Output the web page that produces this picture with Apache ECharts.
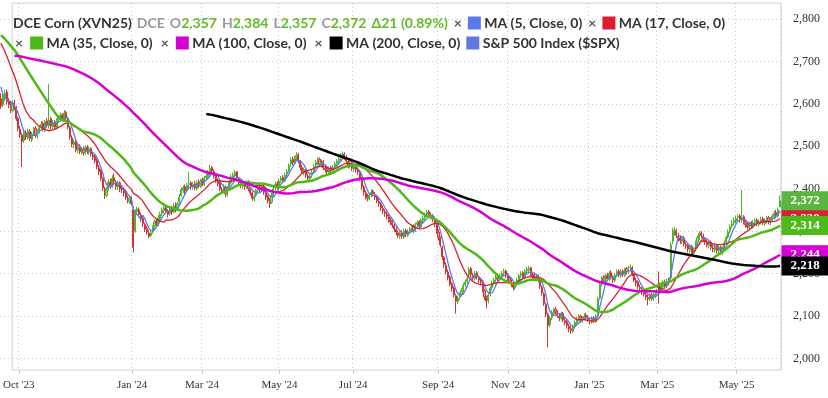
<!DOCTYPE html>
<html>
<head>
<meta charset="utf-8">
<script src="https://cdn.jsdelivr.net/npm/echarts@6/dist/echarts.min.js"></script>
<style>
html, body { margin: 0; padding: 0; background: #fff; }
#main { width: 828px; height: 398px; }
</style>
</head>
<body>
<div id="main"></div>
<script>
// closes before the first bar on screen (mid May - Sep 25 2023), only feed the moving averages
const histClose = [
  2598, 2605, 2612, 2608, 2620, 2615, 2628, 2622, 2630, 2625, 2618, 2632, 2640, 2635, 2645, 2650, 2642, 2655, 2660, 2652,
  2665, 2670, 2662, 2675, 2680, 2672, 2685, 2690, 2682, 2695, 2700, 2692, 2705, 2710, 2702, 2715, 2722, 2728,
  2735, 2748, 2755, 2762, 2758, 2770, 2765, 2778, 2772, 2768, 2780, 2775, 2785, 2778, 2772, 2782, 2790, 2785, 2778, 2786,
  2780, 2772, 2785, 2778, 2790, 2782, 2775, 2788, 2780, 2770, 2784, 2778, 2790, 2776, 2782, 2772, 2785, 2776,
  2780, 2790, 2795, 2788, 2800, 2792, 2785, 2796, 2790, 2782, 2775, 2760,
  2702, 2662, 2636, 2605
];

// daily bars [open, close, low, high]
const sep23 = [[2612,2595,2588,2625],[2598,2618,2592,2626],[2615,2625,2606,2632]];
const oct23 = [[2628,2605,2598,2634],[2606,2598,2590,2614],[2600,2585,2578,2606],[2584,2600,2580,2608],[2602,2592,2585,2610],
  [2590,2565,2560,2595],[2566,2542,2536,2570],[2540,2528,2520,2548],[2526,2512,2451,2532],[2514,2530,2508,2536],
  [2532,2522,2515,2538],[2520,2536,2516,2542],[2535,2518,2512,2540],[2516,2528,2510,2534],[2530,2540,2524,2546],
  [2542,2525,2520,2548],[2524,2535,2518,2540]];
const nov23 = [[2536,2545,2530,2550],[2546,2552,2540,2560],[2554,2540,2535,2558],[2538,2558,2534,2562],[2560,2550,2544,2566],
  [2548,2562,2542,2647],[2565,2548,2540,2570],[2546,2556,2540,2562],[2558,2545,2538,2562],[2544,2560,2540,2566],
  [2562,2566,2555,2574],[2565,2572,2560,2580],[2574,2565,2558,2578],[2562,2578,2558,2585],[2580,2568,2560,2584],
  [2566,2545,2540,2570],[2544,2522,2516,2548],[2520,2505,2498,2526],[2504,2510,2496,2516],[2512,2492,2486,2516],
  [2490,2498,2484,2504],[2500,2488,2482,2505]];
const dec23 = [[2486,2492,2480,2498],[2494,2485,2478,2500],[2484,2496,2480,2502],[2498,2488,2482,2503],[2486,2494,2480,2500],
  [2495,2482,2476,2498],[2480,2475,2468,2486],[2476,2466,2460,2480],[2468,2452,2446,2472],[2450,2440,2432,2456],
  [2442,2425,2418,2446],[2424,2402,2395,2428],[2400,2385,2376,2405],[2384,2398,2380,2404],[2400,2415,2395,2422],
  [2416,2408,2400,2424],[2406,2425,2402,2432],[2426,2418,2410,2436],[2416,2405,2398,2420],[2404,2412,2398,2418],
  [2414,2400,2392,2418]];
const jan24 = [[2402,2398,2390,2408],[2396,2390,2382,2402],[2392,2380,2374,2396],[2378,2372,2366,2384],[2370,2378,2364,2384],
  [2376,2365,2360,2382],[2352,2262,2250,2358],[2300,2348,2296,2352],[2346,2352,2338,2358],[2350,2340,2334,2356],
  [2338,2330,2322,2344],[2330,2318,2310,2334],[2316,2305,2298,2320],[2306,2298,2292,2312],[2296,2288,2284,2302],
  [2290,2296,2286,2304],[2298,2310,2294,2314],[2312,2322,2306,2328],[2324,2318,2312,2330],[2316,2332,2312,2338],
  [2330,2340,2326,2346],[2342,2350,2336,2356]];
const feb24 = [[2348,2355,2342,2362],[2356,2348,2340,2362],[2346,2340,2332,2352],[2342,2352,2336,2358],[2354,2345,2338,2360],
  [2346,2360,2342,2366],[2362,2350,2344,2368],[2352,2365,2348,2370],[2370,2380,2364,2388],[2384,2398,2380,2404],
  [2396,2402,2390,2408],[2404,2395,2388,2410],[2396,2408,2392,2414],[2410,2412,2400,2439],[2414,2405,2398,2418]];
const mar24 = [[2404,2410,2398,2416],[2412,2402,2396,2418],[2400,2415,2396,2420],[2416,2408,2402,2422],[2406,2418,2402,2424],
  [2420,2412,2406,2426],[2410,2425,2406,2430],[2426,2430,2418,2436],[2428,2438,2424,2444],[2436,2448,2432,2456],
  [2450,2442,2436,2454],[2440,2430,2424,2446],[2432,2420,2414,2436],[2418,2412,2406,2424],[2414,2400,2394,2418],
  [2398,2395,2388,2404],[2394,2405,2390,2410],[2404,2388,2380,2408],[2386,2400,2382,2406],[2402,2415,2398,2420],
  [2414,2428,2410,2434]];
const apr24 = [[2426,2432,2420,2438],[2430,2438,2426,2444],[2440,2425,2420,2442],[2424,2415,2408,2428],[2416,2408,2402,2420],
  [2406,2412,2400,2418],[2414,2405,2398,2418],[2404,2415,2400,2420],[2416,2400,2394,2420],[2398,2390,2384,2404],
  [2390,2378,2372,2394],[2376,2382,2370,2388],[2384,2395,2380,2400],[2396,2402,2390,2408],[2404,2398,2392,2410],
  [2396,2405,2392,2410],[2406,2392,2386,2410],[2390,2380,2374,2396],[2382,2372,2366,2386],[2370,2365,2355,2378]];
const may24 = [[2368,2385,2364,2390],[2386,2400,2382,2406],[2402,2410,2396,2416],[2412,2405,2398,2418],[2404,2418,2400,2424],
  [2420,2425,2414,2430],[2426,2420,2414,2432],[2418,2432,2416,2438],[2434,2440,2428,2446],[2442,2455,2438,2460],
  [2458,2468,2452,2474],[2470,2462,2456,2476],[2460,2472,2456,2478],[2474,2478,2466,2486],[2480,2465,2460,2484],
  [2464,2450,2444,2468],[2450,2440,2434,2456],[2438,2445,2432,2450],[2446,2432,2426,2450],[2430,2425,2418,2436]];
const jun24 = [[2424,2430,2418,2436],[2432,2438,2426,2444],[2440,2452,2436,2458],[2454,2462,2448,2468],[2464,2468,2456,2474],
  [2470,2458,2452,2474],[2456,2462,2450,2468],[2464,2450,2444,2468],[2448,2445,2438,2456],[2446,2440,2432,2450],
  [2438,2448,2434,2452],[2450,2442,2436,2454],[2440,2450,2436,2456],[2452,2458,2446,2464],[2460,2465,2454,2470],
  [2466,2470,2460,2476],[2472,2478,2466,2484],[2476,2480,2470,2488],[2482,2475,2468,2486]];
const jul24 = [[2474,2465,2458,2480],[2464,2455,2448,2470],[2454,2460,2448,2466],[2462,2448,2442,2466],[2446,2452,2440,2458],
  [2454,2445,2438,2458],[2444,2440,2432,2450],[2438,2425,2418,2442],[2424,2405,2398,2428],[2404,2392,2384,2408],
  [2390,2380,2374,2396],[2382,2378,2370,2388],[2376,2385,2372,2390],[2386,2392,2380,2398],[2394,2388,2382,2398],
  [2386,2380,2374,2392],[2382,2372,2366,2386],[2370,2365,2358,2376],[2364,2355,2348,2368],[2354,2348,2340,2360],
  [2346,2342,2334,2352],[2340,2335,2328,2346],[2334,2328,2320,2340]];
const aug24 = [[2326,2322,2314,2332],[2320,2315,2308,2326],[2314,2305,2298,2318],[2304,2298,2290,2310],[2296,2290,2284,2302],
  [2288,2295,2282,2300],[2296,2288,2282,2302],[2286,2300,2282,2306],[2302,2292,2286,2306],[2290,2298,2286,2304],
  [2300,2305,2294,2310],[2306,2310,2300,2316],[2312,2302,2296,2316],[2300,2315,2298,2320],[2316,2320,2310,2326],
  [2322,2312,2306,2326],[2310,2325,2306,2330],[2326,2330,2320,2336],[2332,2338,2326,2344],[2340,2345,2334,2350],
  [2346,2340,2334,2350],[2338,2335,2328,2344]];
const sep24 = [[2334,2330,2322,2340],[2328,2318,2310,2334],[2316,2300,2294,2320],[2298,2285,2278,2304],[2284,2268,2262,2288],
  [2262,2240,2232,2266],[2238,2222,2214,2242],[2220,2205,2198,2226],[2204,2190,2184,2210],[2192,2175,2170,2196],
  [2176,2165,2158,2180],[2166,2150,2144,2170],[2148,2135,2106,2152],[2134,2142,2128,2148],[2144,2150,2138,2156],
  [2152,2160,2146,2166],[2162,2172,2156,2178],[2174,2180,2168,2186],[2182,2188,2176,2194]];
const oct24 = [[2196,2210,2190,2216],[2212,2198,2192,2216],[2196,2190,2184,2202],[2188,2200,2184,2206],[2202,2192,2186,2206],
  [2190,2185,2178,2196],[2186,2180,2172,2190],[2178,2162,2156,2182],[2160,2145,2138,2164],[2144,2135,2118,2148],
  [2136,2150,2130,2156],[2152,2165,2146,2170],[2166,2178,2160,2184],[2180,2185,2172,2190],[2186,2192,2180,2198],
  [2194,2188,2182,2200],[2186,2195,2182,2200],[2196,2200,2190,2206]];
const nov24 = [[2202,2205,2194,2212],[2206,2198,2190,2210],[2196,2188,2182,2202],[2190,2182,2176,2194],[2180,2175,2168,2186],
  [2176,2168,2160,2180],[2166,2172,2162,2178],[2174,2185,2170,2190],[2186,2195,2180,2200],[2196,2200,2190,2206],
  [2202,2192,2186,2206],[2190,2205,2186,2210],[2206,2210,2198,2216],[2208,2212,2200,2218],[2214,2200,2194,2216],
  [2198,2195,2188,2204],[2196,2190,2184,2200],[2188,2192,2182,2198],[2194,2188,2180,2198],[2186,2170,2164,2190],
  [2168,2155,2148,2172]];
const dec24 = [[2152,2130,2124,2156],[2128,2105,2098,2132],[2104,2078,2026,2108],[2080,2095,2074,2100],[2096,2108,2090,2114],
  [2106,2115,2100,2120],[2116,2110,2104,2122],[2108,2102,2096,2114],[2100,2096,2088,2106],[2094,2105,2090,2110],
  [2106,2092,2086,2110],[2090,2085,2078,2096],[2086,2078,2070,2090],[2076,2070,2062,2082],[2070,2066,2058,2076],
  [2064,2075,2060,2080],[2076,2085,2070,2090],[2084,2092,2080,2098],[2094,2098,2088,2104],[2100,2090,2084,2104],
  [2088,2095,2084,2100],[2096,2100,2090,2106]];
const jan25 = [[2102,2098,2090,2108],[2096,2092,2086,2102],[2090,2088,2080,2096],[2086,2095,2082,2100],[2096,2090,2084,2100],
  [2088,2098,2084,2104],[2100,2140,2096,2146],[2142,2175,2138,2182],[2176,2188,2170,2194],[2190,2182,2176,2196],
  [2180,2195,2176,2200],[2196,2188,2182,2202],[2186,2200,2182,2206],[2202,2192,2186,2208],[2190,2185,2178,2196],
  [2184,2196,2180,2202],[2198,2205,2192,2210],[2206,2198,2192,2210]];
const feb25 = [[2196,2205,2190,2210],[2206,2198,2192,2210],[2196,2210,2192,2214],[2212,2205,2198,2216],[2204,2212,2200,2218],
  [2214,2215,2206,2222],[2214,2200,2194,2218],[2198,2185,2180,2202],[2184,2178,2170,2190],[2180,2170,2164,2184],
  [2168,2165,2158,2174],[2164,2158,2150,2168],[2156,2152,2146,2162],[2150,2145,2138,2156],[2144,2140,2125,2150],
  [2142,2148,2136,2154],[2150,2142,2136,2154],[2140,2150,2136,2156]];
const mar25 = [[2148,2152,2142,2158],[2154,2158,2146,2164],[2178,2160,2130,2205],[2162,2172,2156,2178],[2170,2178,2164,2184],
  [2180,2170,2164,2186],[2172,2182,2166,2188],[2184,2178,2172,2190],[2190,2268,2186,2274],[2276,2300,2270,2308],
  [2298,2302,2290,2310],[2300,2290,2284,2306],[2288,2285,2276,2296],[2284,2278,2270,2290],[2276,2282,2270,2288],
  [2284,2270,2264,2288],[2268,2265,2258,2274],[2266,2258,2250,2270],[2256,2262,2250,2268],[2264,2250,2244,2268],
  [2248,2255,2242,2260]];
const apr25 = [[2258,2272,2252,2278],[2274,2285,2268,2290],[2286,2295,2280,2300],[2296,2290,2284,2300],[2288,2282,2276,2294],
  [2280,2275,2268,2286],[2274,2268,2262,2280],[2266,2272,2260,2278],[2274,2262,2256,2278],[2260,2258,2250,2266],
  [2256,2265,2250,2270],[2266,2255,2248,2270],[2254,2262,2248,2268],[2262,2250,2244,2266],[2250,2258,2244,2264],
  [2260,2272,2256,2278],[2274,2285,2268,2290],[2286,2298,2282,2304],[2300,2310,2294,2316],[2312,2318,2306,2326],
  [2320,2325,2314,2332]];
const may25 = [[2324,2330,2318,2336],[2332,2335,2324,2340],[2336,2328,2320,2340],[2326,2332,2320,2397],[2334,2322,2316,2338],
  [2320,2315,2308,2326],[2314,2310,2304,2320],[2308,2318,2304,2322],[2320,2312,2306,2324],[2310,2320,2306,2326],
  [2322,2325,2314,2330],[2326,2318,2312,2330],[2316,2322,2310,2328],[2324,2328,2316,2334],[2330,2320,2314,2334],
  [2318,2325,2312,2330],[2326,2330,2318,2336],[2332,2322,2316,2336],[2320,2328,2314,2334]];
const jun25 = [[2328,2335,2322,2340],[2334,2342,2328,2348],[2344,2338,2330,2350],[2336,2351,2332,2356],[2357,2372,2357,2384]];

const bars = [].concat(sep23, oct23, nov23, dec23, jan24, feb24, mar24, apr24, may24, jun24, jul24, aug24,
  sep24, oct24, nov24, dec24, jan25, feb25, mar25, apr25, may25, jun25);

// exchange closed days (weekdays)
const holidays = ['2023-09-29','2023-10-02','2023-10-03','2023-10-04','2023-10-05','2023-10-06','2024-01-01',
  '2024-02-09','2024-02-12','2024-02-13','2024-02-14','2024-02-15','2024-02-16','2024-04-04','2024-04-05',
  '2024-05-01','2024-05-02','2024-05-03','2024-06-10','2024-09-16','2024-09-17','2024-10-01','2024-10-02',
  '2024-10-03','2024-10-04','2024-10-07','2025-01-01','2025-01-28','2025-01-29','2025-01-30','2025-01-31',
  '2025-02-03','2025-02-04','2025-04-04','2025-05-01','2025-05-02','2025-05-05','2025-06-02'];
const firstDay = '2023-09-26';
const monthNames = ['Jan','Feb','Mar','Apr','May','Jun','Jul','Aug','Sep','Oct','Nov','Dec'];

function tradingDays(start, count) {
  const out = [];
  const d = new Date(start + 'T00:00:00Z');
  while (out.length < count) {
    const s = d.toISOString().slice(0, 10);
    const wd = d.getUTCDay();
    if (wd !== 0 && wd !== 6 && holidays.indexOf(s) < 0) out.push(s);
    d.setUTCDate(d.getUTCDate() + 1);
  }
  return out;
}
const dates = tradingDays(firstDay, bars.length);

const closes = histClose.concat(bars.map(b => b[1]));
function sma(n) {
  const out = [];
  for (let i = histClose.length; i < closes.length; i++) {
    if (i < n - 1) { out.push(null); continue; }
    let s = 0;
    for (let k = i - n + 1; k <= i; k++) s += closes[k];
    out.push(+(s / n).toFixed(2));
  }
  return out;
}

// label every other month (first trading day), plus Oct '23
const labelAt = {};
dates.forEach((d, i) => {
  if (i === 0 || d.slice(5, 7) === dates[i - 1].slice(5, 7)) return;
  const y = +d.slice(0, 4), m = +d.slice(5, 7) - 1;
  if ((y === 2023 && m === 9) || (y >= 2024 && m % 2 === 0)) labelAt[i] = true;
});
const atLabel = i => !!labelAt[i];

const fmt = v => Math.round(v).toLocaleString('en-US');
const last = bars[bars.length - 1];
const prevClose = bars[bars.length - 2][1];
const chg = last[1] - prevClose;
const pct = (chg / prevClose * 100).toFixed(2);

const C = {
  ma5: '#5a78f0', ma17: '#dc1e32', ma35: '#4cbb17', ma100: '#d600d6', ma200: '#000000',
  spx: '#6079e0', price: '#5cb540', text: '#62bb26',
  upFill: 'rgba(130,205,100,0.8)', upLine: '#4cb52a', downFill: 'rgba(236,128,128,0.8)', downLine: '#d43232'
};
const serif = 'Liberation Serif';
const txt = { fontFamily: 'Lato', fontSize: 14 };

const chart = echarts.init(document.getElementById('main'));

function endLabel(bg) {
  return {
    show: true, distance: 1.5, color: '#fff', backgroundColor: bg,
    fontFamily: serif, fontWeight: 'bold', fontSize: 13, lineHeight: 13,
    padding: [3, 9, 3, 9], formatter: p => fmt(p.value)
  };
}
function maSeries(name, n, color, width, z) {
  return {
    name: name, type: 'line', data: sma(n), xAxisIndex: 0, yAxisIndex: 0,
    symbol: 'none', z: z, silent: true,
    lineStyle: { color: color, width: width }, endLabel: endLabel(color)
  };
}

const option = {
  animation: false,
  title: [
    {
      left: 13, top: 14, padding: 0,
      text: `{n|DCE Corn (XVN25)} {g|DCE} {g|O}{v|${fmt(last[0])}} {g|H}{v|${fmt(last[3])}} {g|L}{v|${fmt(last[2])}} {g|C}{v|${fmt(last[1])}} {v|Δ${chg} (${pct}%)}{x|×}{b|}{n| MA (5, Close, 0)}{x|×}{r|}{n| MA (17, Close, 0)}`,
      textStyle: {
        rich: {
          n: Object.assign({ color: '#333' }, txt),
          g: Object.assign({ color: '#999' }, txt),
          v: Object.assign({ color: C.text }, txt),
          x: Object.assign({ color: '#555', padding: [0, 6, 0, 6] }, txt),
          b: { width: 13, height: 13, backgroundColor: C.ma5 },
          r: { width: 13, height: 13, backgroundColor: C.ma17 }
        }
      }
    },
    {
      left: 15, top: 36, padding: 0,
      text: '{x0|×}{gr|}{n| MA (35, Close, 0)}{x|×}{m|}{n| MA (100, Close, 0)}{x|×}{k|}{n| MA (200, Close, 0)}{sp|}{s|}{n| S&P 500 Index ($SPX)}',
      textStyle: {
        rich: {
          n: Object.assign({ color: '#333' }, txt),
          x0: Object.assign({ color: '#555', padding: [0, 7, 0, 0] }, txt),
          x: Object.assign({ color: '#555', padding: [0, 7, 0, 8] }, txt),
          sp: { width: 6, height: 13 },
          gr: { width: 13, height: 13, backgroundColor: C.ma35 },
          m: { width: 13, height: 13, backgroundColor: C.ma100 },
          k: { width: 13, height: 13, backgroundColor: C.ma200 },
          s: { width: 13, height: 13, backgroundColor: C.spx }
        }
      }
    }
  ],
  grid: [
    // price scale: 2000 at y 358.5, 2800 at y 19
    { left: 0, width: 781, top: 19, height: 339.5 },
    // frame, dates and vertical gridlines
    { left: 0, width: 781, top: 3, height: 367, show: true, borderColor: '#d0d0d0', borderWidth: 1, backgroundColor: 'transparent' }
  ],
  xAxis: [
    { type: 'category', gridIndex: 0, data: dates, show: false },
    {
      type: 'category', gridIndex: 1, data: dates,
      axisLine: { show: false },
      axisTick: { show: true, interval: atLabel, alignWithLabel: true, length: 4, lineStyle: { color: '#ccc' } },
      axisLabel: {
        interval: atLabel, color: '#333', fontFamily: serif, fontSize: 11, margin: 10,
        formatter: v => monthNames[+v.slice(5, 7) - 1] + " '" + v.slice(2, 4)
      },
      splitLine: { show: true, interval: atLabel, lineStyle: { color: '#c8c8c8', type: [1, 3] } }
    }
  ],
  yAxis: [
    {
      type: 'value', gridIndex: 0, position: 'right', min: 2000, max: 2800, interval: 100,
      axisLine: { show: false }, axisTick: { show: false },
      axisLabel: { color: '#333', fontFamily: serif, fontSize: 12, margin: 12, formatter: v => fmt(v) },
      splitLine: { show: true, lineStyle: { color: '#c8c8c8', type: [1, 3] } }
    },
    { type: 'value', gridIndex: 1, show: false, min: 0, max: 1 }
  ],
  series: [
    {
      name: 'DCE Corn', type: 'candlestick', data: bars, xAxisIndex: 0, yAxisIndex: 0, z: 2,
      barWidth: 1.6, silent: true, clip: false,
      itemStyle: { color: C.upFill, color0: C.downFill, borderColor: C.upLine, borderColor0: C.downLine, borderWidth: 1 }
    },
    maSeries('MA 5', 5, C.ma5, 1.3, 3),
    maSeries('MA 17', 17, C.ma17, 1.3, 4),
    maSeries('MA 35', 35, C.ma35, 2.5, 5),
    maSeries('MA 100', 100, C.ma100, 2.5, 6),
    maSeries('MA 200', 200, C.ma200, 2.5, 7),
    {
      name: 'Last', type: 'line', data: bars.map(b => b[1]), xAxisIndex: 0, yAxisIndex: 0,
      symbol: 'none', z: 10, silent: true, lineStyle: { opacity: 0 }, endLabel: endLabel(C.price)
    }
  ]
};
chart.setOption(option);
</script>
</body>
</html>
